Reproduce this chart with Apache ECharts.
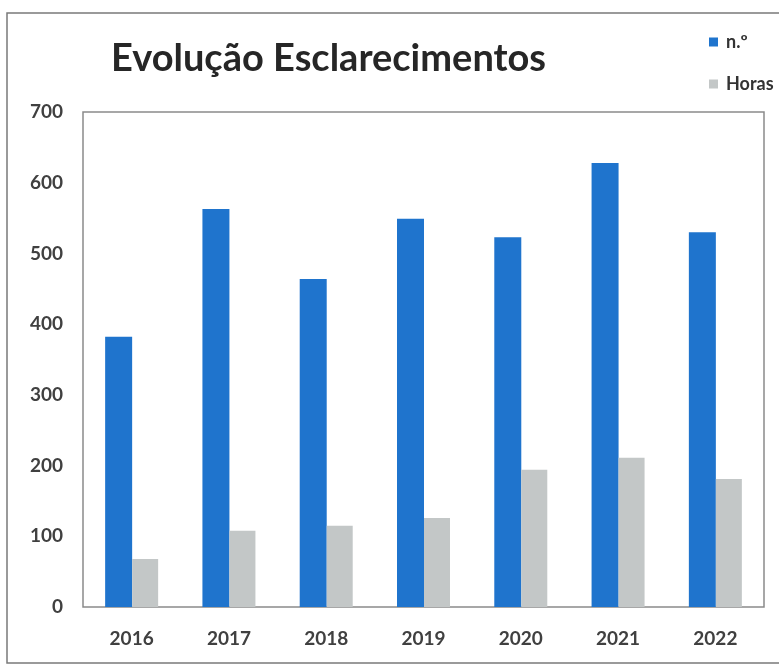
<!DOCTYPE html>
<html>
<head>
<meta charset="utf-8">
<script src="https://cdn.jsdelivr.net/npm/echarts@6/dist/echarts.min.js"></script>
<style>
  html, body { margin: 0; padding: 0; background: #fff; }
  #chart { width: 779px; height: 666px; }
</style>
</head>
<body>
<div id="chart"></div>
<script>
// Chart data
const years = ["2016", "2017", "2018", "2019", "2020", "2021", "2022"];
const numero = [382, 563, 464, 549, 523, 628, 530];
const horas = [68, 108, 115, 126, 194, 211, 181];
const yTicks = [0, 100, 200, 300, 400, 500, 600, 700];

document.addEventListener("DOMContentLoaded", function () {
  initBarChart();
});

function initBarChart() {
  let chartDom = document.getElementById("chart");
  if (!chartDom) return;

  let myChart = echarts.init(chartDom);

  let option = {
    backgroundColor: "#fff",
    animation: false,
    textStyle: {
      fontFamily: "Lato",
    },
    title: {
      text: "Evolução Esclarecimentos",
      left: 106,
      top: 35,
      textStyle: {
        fontFamily: "Lato",
        fontSize: 38,
        fontWeight: "bold",
        color: "#262626",
      },
    },
    legend: {
      orient: "vertical",
      left: 704,
      top: 28,
      itemWidth: 9,
      itemHeight: 9,
      itemGap: 24,
      icon: "rect",
      textStyle: {
        fontFamily: "Lato",
        fontSize: 18,
        fontWeight: "bold",
        color: "#333",
        padding: [0, 0, 0, 3],
      },
      data: ["n.º", "Horas"],
    },
    // outer frame of the scanned picture
    graphic: [
      {
        type: "rect",
        shape: { x: 7, y: 13, width: 800, height: 650 },
        style: { fill: "none", stroke: "#7a7a7a", lineWidth: 1.5 },
        silent: true,
      },
    ],
    grid: {
      left: 83,
      right: 15,
      top: 112,
      bottom: 59,
      show: true,
      borderColor: "#8a8a8a",
      borderWidth: 1.5,
      backgroundColor: "transparent",
    },
    xAxis: {
      type: "category",
      data: years,
      axisLine: { show: false },
      axisTick: { show: false },
      axisLabel: {
        fontFamily: "Lato",
        fontSize: 19,
        fontWeight: "bold",
        color: "#404040",
        margin: 22,
      },
    },
    yAxis: {
      type: "value",
      min: yTicks[0],
      max: yTicks[yTicks.length - 1],
      interval: 100,
      axisLine: { show: false },
      axisTick: { show: false },
      splitLine: { show: false },
      axisLabel: {
        fontFamily: "Lato",
        fontSize: 19,
        fontWeight: "bold",
        color: "#404040",
        margin: 20,
      },
    },
    series: [
      {
        name: "n.º",
        type: "bar",
        data: numero,
        barWidth: 27,
        barGap: "0%",
        itemStyle: { color: "#1f74cd" },
      },
      {
        name: "Horas",
        type: "bar",
        data: horas,
        barWidth: 26,
        itemStyle: { color: "#c3c7c7" },
      },
    ],
  };

  myChart.setOption(option);

  window.addEventListener("resize", function () {
    myChart.resize();
  });
}
</script>
</body>
</html>
